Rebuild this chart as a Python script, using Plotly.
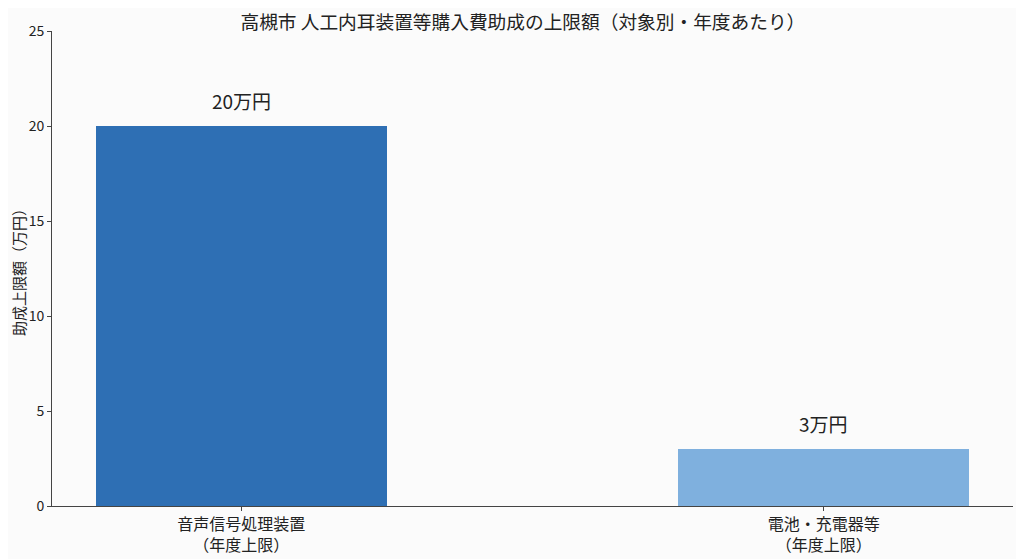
import plotly.graph_objects as go

# data
categories = ['音声信号処理装置<br>（年度上限）', '電池・充電器等<br>（年度上限）']
limits = [20, 3]
value_labels = ['20万円', '3万円']
bar_colors = ['#2e6fb4', '#7fb0de']
y_ticks = [0, 5, 10, 15, 20, 25]

font_name = 'Noto Sans CJK JP'

fig = go.Figure()
fig.add_trace(go.Bar(
    x=[0, 1], y=limits, width=0.5,
    marker=dict(color=bar_colors, line=dict(width=0)),
    showlegend=False, hoverinfo='skip',
))

# value labels above the bars
for i, (v, lab) in enumerate(zip(limits, value_labels)):
    fig.add_annotation(x=i, y=v, text=lab, showarrow=False,
                       yanchor='bottom', yshift=10,
                       font=dict(size=19, color='#222222'))

# page body has an 8px margin, so the margins below make up for it
fig.update_layout(
    width=1024, height=559,
    margin=dict(l=44, r=19, t=23, b=61),
    paper_bgcolor='#fbfbfb', plot_bgcolor='#fbfbfb',
    font=dict(family=font_name, color='#222222'),
    title=dict(text='高槻市 人工内耳装置等購入費助成の上限額（対象別・年度あたり）',
               xref='paper', x=0.49, xanchor='center', y=0.975, yanchor='middle',
               font=dict(size=18.7, color='#222222')),
    bargap=0,
)
fig.update_xaxes(
    range=[-0.325, 1.325], tickvals=[0, 1], ticktext=categories,
    showline=True, linecolor='#444444', linewidth=1,
    ticks='outside', ticklen=4, tickcolor='#444444',
    tickfont=dict(size=16), showgrid=False, zeroline=False,
    automargin=False,
)
fig.update_yaxes(
    range=[0, 25], tickvals=y_ticks,
    showline=True, linecolor='#444444', linewidth=1,
    ticks='outside', ticklen=4, tickcolor='#444444',
    tickfont=dict(size=14), showgrid=False, zeroline=False,
    automargin=False,
    title=dict(text='助成上限額（万円）', font=dict(size=15), standoff=8),
)

fig.write_html("out.html")
